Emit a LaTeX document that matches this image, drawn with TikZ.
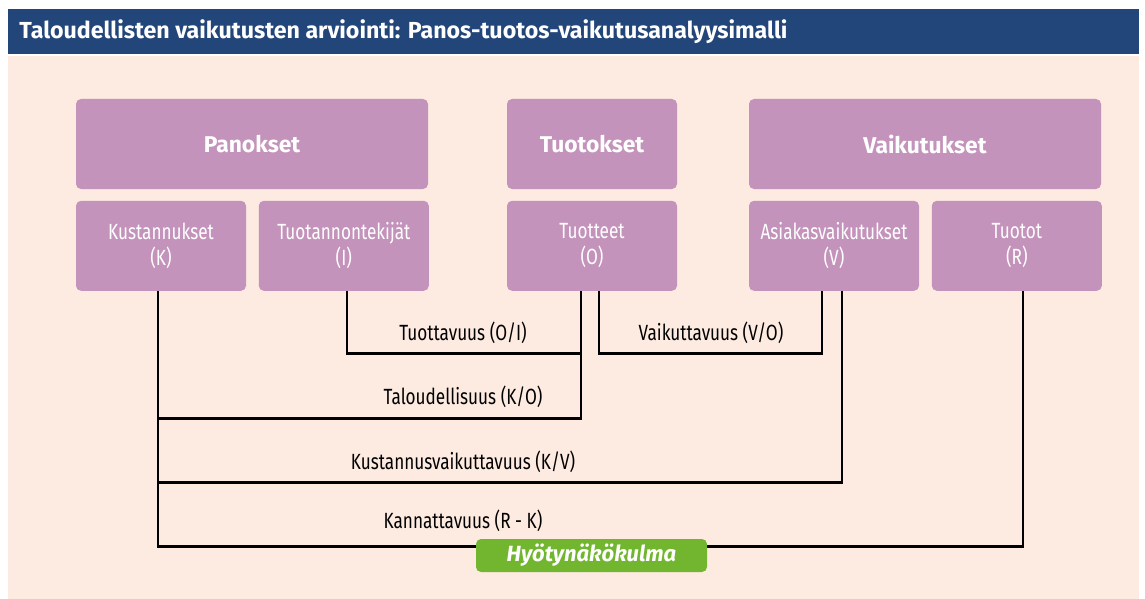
\documentclass[tikz,border=0pt]{standalone}
\usepackage{fontspec}
\setmainfont{Fira Sans}
\newfontfamily\condfont[FakeStretch=0.78]{Fira Sans}
\usetikzlibrary{positioning}
\definecolor{titleblue}{HTML}{23467A}
\definecolor{peach}{HTML}{FDEBE1}
\definecolor{boxpurple}{HTML}{C493BB}
\definecolor{badgegreen}{HTML}{72B52F}

\begin{document}
\begin{tikzpicture}[x=0.5pt, y=-0.5pt,
    headbox/.style={fill=boxpurple, rounded corners=2.5pt, minimum height=45pt, text=white, font=\fontsize{11.4}{13}\selectfont\bfseries},
    subbox/.style={fill=boxpurple, rounded corners=2.5pt, minimum width=85pt, minimum height=45pt, text=white, align=center, font=\condfont\fontsize{11}{13}\selectfont},
    ratio/.style={font=\condfont\fontsize{11}{13}\selectfont},
    link/.style={line width=1.3pt}]
	\useasboundingbox (0,0) rectangle (1145,599);
	\fill[titleblue] (8,9) rectangle (1139,54);
	\fill[peach] (8,56) rectangle (1139,599);
	\node[anchor=west, inner sep=0pt, text=white, font=\fontsize{11.6}{13}\selectfont\bfseries] (title) at (19,32) {Taloudellisten vaikutusten arviointi: Panos-tuotos-vaikutusanalyysimalli};

	% upper row
	\node[headbox, minimum width=176pt] (panokset)    at (252,144) {Panokset};
	\node[headbox, minimum width=85pt]  (tuotokset)   at (592,144) {Tuotokset};
	\node[headbox, minimum width=176pt] (vaikutukset) at (925,144) {Vaikutukset};

	% lower row
	\node[subbox, anchor=north west] (kust) at ([yshift=-5.5pt]panokset.south west) {Kustannukset\\(K)};
	\node[subbox, right=6pt of kust]           (tuotan)   {Tuotannontekijät\\(I)};
	\node[subbox, below=5.5pt of tuotokset]    (tuotteet) {Tuotteet\\(O)};
	\node[subbox, anchor=north west] (asiakas) at ([yshift=-5.5pt]vaikutukset.south west) {Asiakasvaikutukset\\(V)};
	\node[subbox, right=6pt of asiakas]        (tuotot)   {Tuotot\\(R)};

	% ratios
	\draw[link] ([xshift=1.5pt]tuotan.south) -- ++(0,62) -| ([xshift=-5.5pt]tuotteet.south);
	\draw[link] ([xshift=3.5pt]tuotteet.south) -- ++(0,62) -| ([xshift=-6pt]asiakas.south);
	\draw[link] ([xshift=-1.5pt]kust.south) -- ++(0,127) -| ([xshift=-5.5pt]tuotteet.south);
	\draw[link] ([xshift=-1.5pt]kust.south) -- ++(0,191) -| ([xshift=4pt]asiakas.south);
	\draw[link] ([xshift=-1.5pt]kust.south) -- ++(0,255) -| ([xshift=3pt]tuotot.south);

	\node[ratio] (tuottavuus)   at (463,333) {Tuottavuus (O/I)};
	\node[ratio] (vaikuttavuus) at (711,333) {Vaikuttavuus (V/O)};
	\node[ratio] (talous)       at (463,397) {Taloudellisuus (K/O)};
	\node[ratio] (kustvaik)     at (463,462) {Kustannusvaikuttavuus (K/V)};
	\node[ratio] (kannatt)      at (463,521) {Kannattavuus (R - K)};

	\node[fill=badgegreen, rounded corners=2.5pt, minimum width=115.5pt, minimum height=16.5pt, inner sep=0pt, text=white, font=\fontsize{11}{13}\selectfont\bfseries\itshape] (hyoty) at (591.5,555.5) {Hyötynäkökulma};
\end{tikzpicture}
\end{document}
